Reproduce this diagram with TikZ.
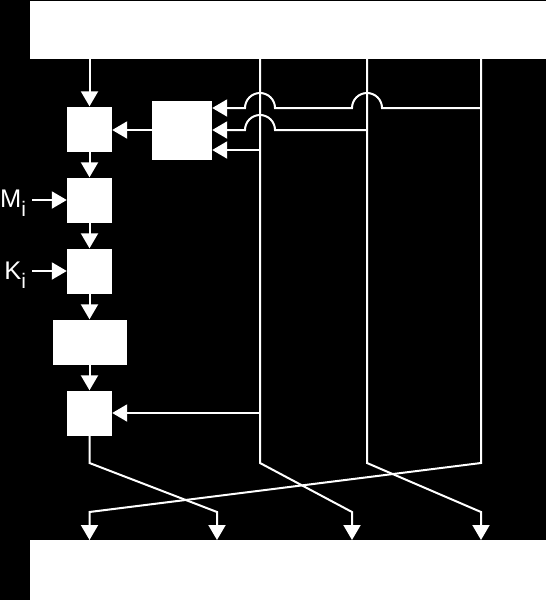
\documentclass[tikz,border=0pt]{standalone}
\usepackage{fontspec}
\setmainfont{Liberation Sans}
\usetikzlibrary{positioning, arrows.meta}

\begin{document}
\begin{tikzpicture}[x=1pt, y=-1pt, node distance=71pt, on grid,
        blk/.style={fill=white, inner sep=0pt, minimum width=45pt, minimum height=45pt},
        wire/.style={draw=white, line width=2pt},
        arr/.style={wire, -{Triangle[length=15pt, width=17pt]}},
        lbl/.style={text=white, inner sep=0pt, outer xsep=6pt, anchor=base east, font=\fontsize{25.5}{25.5}\selectfont}]
        \useasboundingbox (0,0) rectangle (546,600);
        \fill[black] (0,0) rectangle (546,600);
        \node[blk, minimum width=516pt, minimum height=58pt] (top) at (288,30) {};
        \node[blk, minimum width=516pt, minimum height=60pt] (bot) at (288,570) {};
        \node[blk] (add1) at (89.5,129) {};
        \node[blk] (add2) [below=of add1] {};
        \node[blk] (add3) [below=of add2] {};
        \node[blk, minimum width=74pt] (fn) [below=of add3] {};
        \node[blk] (add4) [below=of fn] {};
        \node[blk, minimum width=60pt, minimum height=59pt] (ch) at (182,130) {};
        \node[lbl] (m) at (32,207) {M\raisebox{-9pt}{\fontsize{21}{21}\selectfont i}};
        \node[lbl] (k) at (32,279) {K\raisebox{-9pt}{\fontsize{21}{21}\selectfont i}};

        \coordinate (wa) at (260,59);
        \coordinate (wb) at (367,59);
        \coordinate (wc) at (481,59);
        \coordinate (out1) at (89.5,540);
        \coordinate (out2) at (217,540);
        \coordinate (out3) at (352,540);
        \coordinate (out4) at (481,540);

        \draw[arr] (add1 |- top.south) -- (add1);
        \draw[arr] (ch.west) -- (ch.west -| add1.east);
        \draw[arr] (add1) -- (add2);
        \draw[arr] (add2) -- (add3);
        \draw[arr] (add3) -- (fn);
        \draw[arr] (fn) -- (add4);
        \draw[arr] (m.east |- add2) -- (add2);
        \draw[arr] (k.east |- add3) -- (add3);

        \draw[arr] (wc |- 0,108) -- ([xshift=15pt]wb |- 0,108) arc[start angle=0, end angle=180, radius=15pt]
            -- ([xshift=15pt]wa |- 0,108) arc[start angle=0, end angle=180, radius=15pt] -- (ch.east |- 0,108);
        \draw[arr] (wb |- 0,130) -- ([xshift=15pt]wa |- 0,130) arc[start angle=0, end angle=180, radius=15pt]
            -- (ch.east |- 0,130);
        \draw[arr] (wa |- 0,150) -- (ch.east |- 0,150);
        \draw[arr] (wa |- add4) -- (add4);

        \draw[arr] (add4) -- (add4 |- 0,463) -- (out2 |- 0,512) -- (out2);
        \draw[arr] (wa) -- (wa |- 0,463) -- (out3 |- 0,512) -- (out3);
        \draw[arr] (wb) -- (wb |- 0,463) -- (out4 |- 0,512) -- (out4);
        \draw[arr] (wc) -- (wc |- 0,463) -- (out1 |- 0,512) -- (out1);
    \end{tikzpicture}
\end{document}
